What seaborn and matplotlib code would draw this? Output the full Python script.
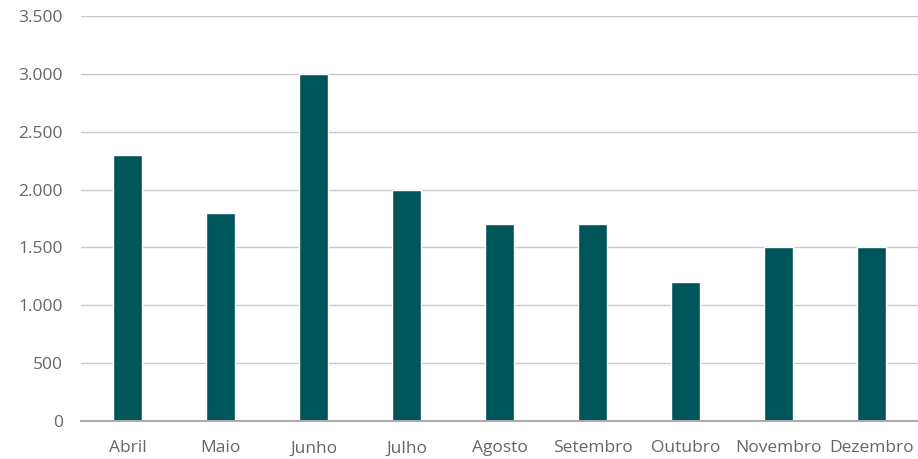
import matplotlib
matplotlib.use("Agg")
import matplotlib.pyplot as plt
import matplotlib.ticker as mticker
import seaborn as sns
import pandas as pd

# Data
months = ['Abril', 'Maio', 'Junho', 'Julho', 'Agosto', 'Setembro', 'Outubro', 'Novembro', 'Dezembro']
values = [2300, 1800, 3000, 2000, 1700, 1700, 1200, 1500, 1500]
y_ticks = [0, 500, 1000, 1500, 2000, 2500, 3000, 3500]

df = pd.DataFrame({'Mes': months, 'Valor': values})

sns.set_style('white')
plt.rcParams['font.family'] = ['Open Sans', 'DejaVu Sans']

fig = plt.figure(figsize=(9.18, 4.59), dpi=100)
ax = fig.add_axes([0.0882, 0.0828, 0.9118, 0.8824])

sns.barplot(data=df, x='Mes', y='Valor', color='#00555A', width=0.32,
            saturation=1, ax=ax)

ax.set_ylim(0, 3500)
ax.set_yticks(y_ticks)
ax.yaxis.set_major_formatter(mticker.FuncFormatter(lambda v, p: f'{int(v):,}'.replace(',', '.')))
ax.set_xlim(-0.5, len(months) - 0.5)

ax.grid(axis='y', color='#C9C9C9', linewidth=1)
ax.set_axisbelow(True)
for s in ['top', 'right', 'left']:
    ax.spines[s].set_visible(False)
ax.spines['bottom'].set_color('#ABABAB')
ax.spines['bottom'].set_linewidth(1.5)

ax.tick_params(axis='y', length=0, pad=13, labelsize=12.5, labelcolor='#666666')
ax.tick_params(axis='x', length=0, pad=14, labelsize=12.5, labelcolor='#666666')
ax.set_xlabel('')
ax.set_ylabel('')

fig.savefig('out.png', dpi=100)
